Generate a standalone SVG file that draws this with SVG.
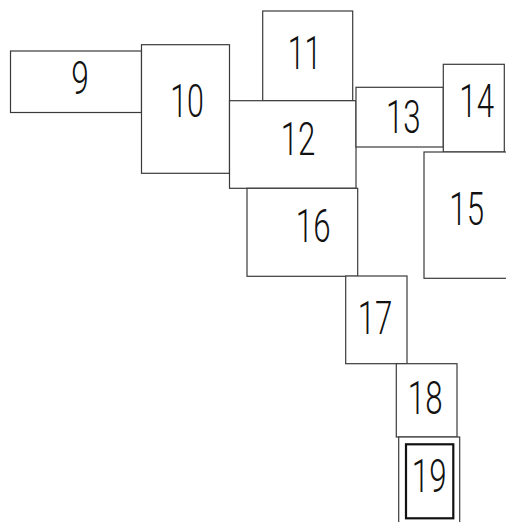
<svg xmlns="http://www.w3.org/2000/svg" width="506" height="522" viewBox="0 0 506 522">
<style>
.b{fill:#fff;stroke:#3a3a3a;stroke-width:1.2}
.t{font-family:"Roboto","Liberation Sans",Arial,sans-serif;font-weight:300;font-size:46px;fill:#111;text-anchor:middle}
.in{fill:none;stroke:#111;stroke-width:2.2}
</style>
<rect width="506" height="522" fill="#fff"/>
<g id="connectors"></g>
<g id="n9"><rect class="b" x="10.5" y="51" width="131" height="61.5"/><text class="t" transform="translate(80,94.3) scale(0.69,1)">9</text></g>
<g id="n10"><rect class="b" x="141.5" y="44.7" width="88" height="128.6"/><text class="t" transform="translate(187,116.7) scale(0.66,1)">10</text></g>
<g id="n11"><rect class="b" x="262.7" y="11" width="90" height="89.7"/><text class="t" transform="translate(304.5,69.3) scale(0.66,1)">11</text></g>
<g id="n12"><rect class="b" x="229.5" y="100.7" width="126.5" height="87.6"/><text class="t" transform="translate(298,155) scale(0.68,1)">12</text></g>
<g id="n13"><rect class="b" x="356" y="87.3" width="87.3" height="59.7"/><text class="t" transform="translate(403.3,132.7) scale(0.68,1)">13</text></g>
<g id="n14"><rect class="b" x="443.3" y="64.3" width="61" height="87.7"/><text class="t" transform="translate(476.7,117.3) scale(0.68,1)">14</text></g>
<g id="n15"><rect class="b" x="424" y="152" width="90" height="126.3"/><text class="t" transform="translate(466.7,224.7) scale(0.68,1)">15</text></g>
<g id="n16"><rect class="b" x="247" y="188.3" width="110.7" height="88"/><text class="t" transform="translate(313.2,242) scale(0.68,1)">16</text></g>
<g id="n17"><rect class="b" x="345.7" y="276" width="61.3" height="87.7"/><text class="t" transform="translate(375,333.7) scale(0.68,1)">17</text></g>
<g id="n18"><rect class="b" x="396.3" y="363.7" width="60.7" height="73.3"/><text class="t" transform="translate(425.2,414) scale(0.68,1)">18</text></g>
<g id="n19"><rect class="b" x="398.7" y="437" width="61" height="95"/><rect class="in" x="406" y="444.3" width="47.3" height="74"/><text class="t" transform="translate(429.2,491.7) scale(0.68,1)">19</text></g>
</svg>
